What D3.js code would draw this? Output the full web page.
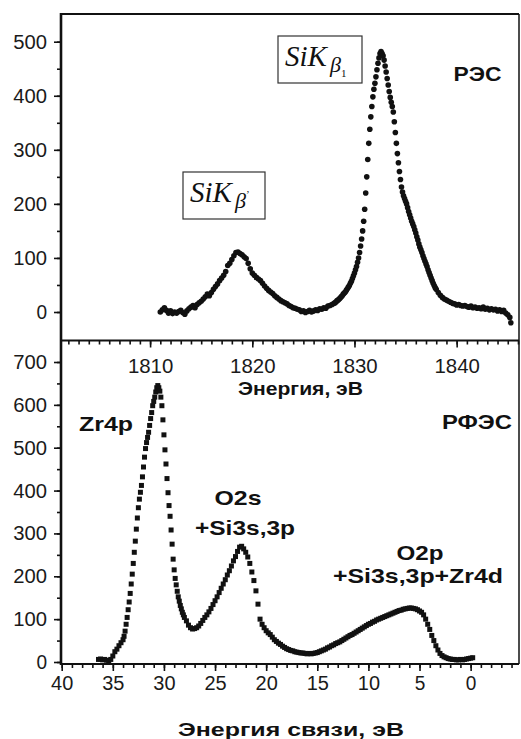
<!DOCTYPE html>
<html>
<head>
<meta charset="utf-8">
<script src="https://cdnjs.cloudflare.com/ajax/libs/d3/7.8.5/d3.min.js"></script>
<style>
  html, body { margin: 0; padding: 0; background: #fff; }
  svg { display: block; }
</style>
</head>
<body>
<svg id="chart"></svg>
<script>

/*
*   Data
*/

// РЭС: [энергия, эВ; интенсивность]
const resPoints = [
    [1811.0, 0], [1811.2, 4], [1811.4, 8], [1811.6, 3], [1811.8, -2], [1812.0, 2], [1812.2, -3], [1812.4, 0],
    [1812.6, -2], [1812.8, 1], [1813.0, 3], [1813.2, -1], [1813.4, -4], [1813.6, 2], [1813.8, 6], [1814.0, 9],
    [1814.2, 12], [1814.4, 8], [1814.6, 14], [1814.8, 17], [1815.0, 20], [1815.2, 24], [1815.4, 28], [1815.6, 33],
    [1815.8, 30], [1816.0, 36], [1816.2, 42], [1816.4, 47], [1816.6, 52], [1816.8, 58], [1817.0, 63], [1817.2, 68],
    [1817.4, 75], [1817.6, 86], [1817.8, 90], [1818.0, 97], [1818.2, 104], [1818.4, 110], [1818.6, 111], [1818.8, 108],
    [1819.0, 106], [1819.2, 102], [1819.4, 99], [1819.6, 90], [1819.8, 80], [1820.0, 72], [1820.2, 68], [1820.4, 64],
    [1820.6, 61], [1820.8, 58], [1821.0, 53], [1821.2, 48], [1821.4, 44], [1821.6, 40], [1821.8, 37], [1822.0, 34],
    [1822.2, 30], [1822.4, 27], [1822.6, 24], [1822.8, 21], [1823.0, 19], [1823.2, 17], [1823.4, 15], [1823.6, 12],
    [1823.8, 10], [1824.0, 8], [1824.2, 7], [1824.4, 5], [1824.6, 4], [1824.8, 1], [1825.0, 2], [1825.2, -1],
    [1825.4, 1], [1825.6, 3], [1825.8, 0], [1826.0, 2], [1826.2, 4], [1826.4, 3], [1826.6, 6], [1826.8, 5],
    [1827.0, 8], [1827.2, 7], [1827.4, 11], [1827.6, 12], [1827.8, 14],
    [1828.0, 16], [1828.1, 17], [1828.2, 19], [1828.3, 21], [1828.4, 22], [1828.5, 24], [1828.6, 26], [1828.7, 28],
    [1828.8, 30], [1828.9, 33], [1829.0, 35], [1829.1, 37], [1829.2, 40], [1829.3, 43], [1829.4, 46], [1829.5, 49],
    [1829.6, 53], [1829.7, 57], [1829.8, 62], [1829.9, 67], [1830.0, 72], [1830.1, 78], [1830.2, 84], [1830.3, 92],
    [1830.4, 100], [1830.5, 110], [1830.6, 122], [1830.7, 135], [1830.8, 150], [1830.9, 168], [1831.0, 190], [1831.1, 220],
    [1831.2, 250], [1831.3, 282], [1831.4, 312], [1831.5, 338], [1831.6, 361], [1831.7, 380], [1831.8, 398], [1831.9, 412],
    [1832.0, 423], [1832.1, 435], [1832.2, 448], [1832.3, 460], [1832.4, 470], [1832.5, 478], [1832.6, 482], [1832.7, 478],
    [1832.8, 474], [1832.9, 466], [1833.0, 455], [1833.1, 444], [1833.2, 432], [1833.3, 420], [1833.4, 408], [1833.5, 397],
    [1833.6, 388], [1833.7, 380], [1833.8, 370], [1833.9, 352], [1834.0, 332], [1834.1, 312], [1834.2, 293], [1834.3, 276],
    [1834.4, 260], [1834.5, 245], [1834.6, 231], [1834.7, 222], [1834.8, 215], [1834.9, 210], [1835.0, 205], [1835.1, 200],
    [1835.2, 193], [1835.3, 186], [1835.4, 180], [1835.5, 174], [1835.6, 168], [1835.7, 163], [1835.8, 158], [1835.9, 152],
    [1836.0, 146], [1836.1, 139], [1836.2, 133], [1836.3, 126], [1836.4, 120], [1836.5, 115], [1836.6, 110], [1836.7, 104],
    [1836.8, 99], [1836.9, 94], [1837.0, 89], [1837.1, 84], [1837.2, 78], [1837.3, 73], [1837.4, 68], [1837.5, 63],
    [1837.6, 58], [1837.7, 53], [1837.8, 49], [1837.9, 45],
    [1838.0, 42], [1838.2, 36], [1838.4, 31], [1838.6, 27], [1838.8, 24], [1839.0, 22], [1839.2, 20], [1839.4, 18],
    [1839.6, 16], [1839.8, 15], [1840.0, 13], [1840.2, 14], [1840.4, 12], [1840.6, 11], [1840.8, 12], [1841.0, 10],
    [1841.2, 9], [1841.4, 11], [1841.6, 8], [1841.8, 9], [1842.0, 7], [1842.2, 8], [1842.4, 6], [1842.6, 9],
    [1842.8, 5], [1843.0, 7], [1843.2, 4], [1843.4, 6], [1843.6, 4], [1843.8, 5], [1844.0, 2], [1844.2, 4],
    [1844.4, 1], [1844.6, 3], [1844.8, -2], [1845.0, -5], [1845.2, -10], [1845.3, -20],
]

// РФЭС: [энергия связи, эВ; интенсивность]
const xpsPoints = [
    [36.4, 6], [36.2, 7], [36.0, 5], [35.8, 6], [35.6, 4], [35.4, 3], [35.2, 6], [35.0, 14],
    [34.8, 24], [34.6, 30], [34.4, 38], [34.2, 45], [34.0, 52],
    [33.9, 60], [33.8, 72], [33.7, 88], [33.6, 104], [33.5, 122], [33.4, 140], [33.3, 160], [33.2, 182],
    [33.1, 205], [33.0, 230], [32.9, 256], [32.8, 282], [32.7, 310], [32.6, 336], [32.5, 360], [32.4, 380],
    [32.3, 396], [32.2, 412], [32.1, 432], [32.0, 455], [31.9, 478], [31.8, 498], [31.7, 512], [31.6, 524],
    [31.5, 536], [31.4, 552], [31.3, 568], [31.2, 582], [31.1, 598], [31.0, 608], [30.9, 618], [30.8, 630],
    [30.7, 640], [30.6, 645], [30.5, 640], [30.4, 632], [30.3, 618], [30.2, 598], [30.1, 565], [30.0, 530],
    [29.9, 495], [29.8, 462], [29.7, 428], [29.6, 395], [29.5, 365], [29.4, 340], [29.3, 308], [29.2, 275],
    [29.1, 240], [29.0, 215], [28.9, 195], [28.8, 180], [28.7, 165], [28.6, 152], [28.5, 142], [28.4, 132],
    [28.3, 124], [28.2, 116], [28.1, 110], [28.0, 104],
    [27.8, 96], [27.6, 86], [27.4, 80], [27.2, 77], [27.0, 78], [26.8, 80], [26.6, 84], [26.4, 90],
    [26.2, 97], [26.0, 104], [25.8, 110], [25.6, 117], [25.4, 125], [25.2, 134], [25.0, 143], [24.8, 152],
    [24.6, 162], [24.4, 172], [24.2, 182], [24.0, 192], [23.8, 203], [23.6, 213], [23.4, 224], [23.2, 236],
    [23.0, 246], [22.8, 258], [22.6, 268], [22.4, 270], [22.2, 264], [22.0, 256], [21.8, 245], [21.6, 230],
    [21.4, 210], [21.2, 190], [21.0, 166], [20.8, 135], [20.6, 100], [20.4, 88], [20.2, 80], [20.0, 73],
    [19.8, 68], [19.6, 64], [19.4, 58], [19.2, 52], [19.0, 48], [18.8, 44], [18.6, 41], [18.4, 37],
    [18.2, 34], [18.0, 31], [17.8, 29], [17.6, 27], [17.4, 26], [17.2, 24], [17.0, 23], [16.8, 22],
    [16.6, 21], [16.4, 21], [16.2, 20], [16.0, 19], [15.8, 20], [15.6, 19], [15.4, 20], [15.2, 21],
    [15.0, 22], [14.8, 24], [14.6, 26], [14.4, 28], [14.2, 30], [14.0, 33], [13.8, 35], [13.6, 38],
    [13.4, 40], [13.2, 43], [13.0, 45], [12.8, 47], [12.6, 50], [12.4, 53], [12.2, 56], [12.0, 59],
    [11.8, 62], [11.6, 64], [11.4, 67], [11.2, 70], [11.0, 73], [10.8, 76], [10.6, 79], [10.4, 82],
    [10.2, 85], [10.0, 88], [9.8, 90], [9.6, 93], [9.4, 95], [9.2, 98], [9.0, 100], [8.8, 102],
    [8.6, 104], [8.4, 106], [8.2, 108], [8.0, 110], [7.8, 112], [7.6, 114], [7.4, 116], [7.2, 118],
    [7.0, 120], [6.8, 121], [6.6, 123], [6.4, 124], [6.2, 125], [6.0, 126], [5.8, 126], [5.6, 125],
    [5.4, 124], [5.2, 122], [5.0, 119], [4.8, 116], [4.6, 110], [4.4, 100], [4.2, 88], [4.0, 76],
    [3.8, 62], [3.6, 50], [3.4, 38], [3.2, 28], [3.0, 20], [2.8, 15], [2.6, 12], [2.4, 10],
    [2.2, 8], [2.0, 7], [1.8, 6], [1.6, 6], [1.4, 5], [1.2, 5], [1.0, 6], [0.8, 5],
    [0.6, 6], [0.4, 7], [0.2, 8], [0.0, 9], [-0.2, 10],
]

const TOP_Y_TICKS = [0, 100, 200, 300, 400, 500]
const BOTTOM_Y_TICKS = [0, 100, 200, 300, 400, 500, 600, 700]
const ENERGY_TICKS = [1810, 1820, 1830, 1840]
const BINDING_TICKS = [40, 35, 30, 25, 20, 15, 10, 5, 0]

const PEAK_LABELS = [
    { text: 'Zr4p', x: 106, y: 431, w: 54 },
    { text: 'O2s', x: 238, y: 505, w: 47 },
    { text: '+Si3s,3p', x: 245, y: 535, w: 100 },
    { text: 'O2p', x: 420, y: 560, w: 47 },
    { text: '+Si3s,3p+Zr4d', x: 418, y: 583, w: 170 },
]


/*
*   Constants
*/

const WIDTH = 521
const HEIGHT = 739
const LEFT = 61
const RIGHT = 519
const TOP = 14
const MIDDLE = 340.5
const BOTTOM = 664
const INK = '#111'
const SANS = '"Liberation Sans", Arial, sans-serif'
const CHAR_W = 11.6


/*
*   Scales
*/

const xEnergy = d3.scaleLinear().domain([1801.35, 1846.1]).range([61.7, RIGHT])
const xBinding = d3.scaleLinear().domain([40, -4.73]).range([61.7, RIGHT])
const yTop = d3.scaleLinear().domain([0, 500]).range([312, 41.7])
const yBottom = d3.scaleLinear().domain([0, 700]).range([662, 362])


const svg = d3.select('#chart')
    .attr('width', WIDTH)
    .attr('height', HEIGHT)


/*
*   Draws an axis, styles ticks, drops the domain path.
*/

const drawAxis = (axis, transform) => {
    const g = svg.append('g')
        .attr('transform', transform)
        .call(axis)
    g.select('.domain').remove()
    g.selectAll('line').attr('stroke', INK).attr('stroke-width', 1.6)
    g.selectAll('text')
        .attr('fill', '#1a1a1a')
        .attr('textLength', function () { return this.textContent.length * CHAR_W - 1 })
        .attr('lengthAdjust', 'spacingAndGlyphs')
        .style('font-family', SANS)
        .style('font-size', '20.5px')
    return g
}

const minorTicks = (scale, step) => {
    const [a, b] = d3.extent(scale.domain())
    return d3.range(Math.ceil(a / step) * step, b + 1e-9, step)
}


/*
*   Axes
*/

// left: upper panel
drawAxis(d3.axisLeft(yTop).tickValues(minorTicks(yTop, 50).filter(v => yTop(v) > TOP + 1 && yTop(v) < MIDDLE - 1))
    .tickSize(4).tickFormat(''), `translate(${LEFT},0)`)
drawAxis(d3.axisLeft(yTop).tickValues(TOP_Y_TICKS).tickSize(7).tickPadding(7), `translate(${LEFT},0)`)

// left: lower panel
drawAxis(d3.axisLeft(yBottom).tickValues(minorTicks(yBottom, 50).filter(v => yBottom(v) > MIDDLE + 1 && yBottom(v) < BOTTOM - 1))
    .tickSize(4).tickFormat(''), `translate(${LEFT},0)`)
drawAxis(d3.axisLeft(yBottom).tickValues(BOTTOM_Y_TICKS).tickSize(7).tickPadding(7), `translate(${LEFT},0)`)

// bottom: binding energy
drawAxis(d3.axisBottom(xBinding).tickValues(minorTicks(xBinding, 1)).tickSize(4).tickFormat(''),
    `translate(0,${BOTTOM})`)
drawAxis(d3.axisBottom(xBinding).tickValues(BINDING_TICKS).tickSize(7).tickPadding(4).tickFormat(d3.format('d')),
    `translate(0,${BOTTOM})`)

// middle: photon energy, ticks pointing into the lower panel
drawAxis(d3.axisBottom(xEnergy).tickValues(minorTicks(xEnergy, 1)).tickSize(4).tickFormat(''),
    `translate(0,${MIDDLE})`)
drawAxis(d3.axisBottom(xEnergy).tickValues(ENERGY_TICKS).tickSize(7).tickPadding(11).tickFormat(d3.format('d')),
    `translate(0,${MIDDLE})`)


/*
*   Frame
*/

const frame = svg.append('g').attr('stroke', INK).attr('fill', 'none')
frame.append('line').attr('x1', LEFT).attr('x2', RIGHT).attr('y1', TOP).attr('y2', TOP).attr('stroke-width', 2)
frame.append('line').attr('x1', RIGHT).attr('x2', RIGHT).attr('y1', TOP).attr('y2', BOTTOM).attr('stroke-width', 1.5)
frame.append('line').attr('x1', LEFT).attr('x2', RIGHT).attr('y1', MIDDLE).attr('y2', MIDDLE).attr('stroke-width', 2)
frame.append('line').attr('x1', LEFT).attr('x2', RIGHT).attr('y1', BOTTOM).attr('y2', BOTTOM).attr('stroke-width', 2)
frame.append('line').attr('x1', LEFT).attr('x2', LEFT).attr('y1', TOP - 1).attr('y2', BOTTOM + 1).attr('stroke-width', 2.6)


/*
*   Marks
*/

svg.append('g')
    .selectAll('circle')
    .data(resPoints)
    .join('circle')
    .attr('cx', d => xEnergy(d[0]))
    .attr('cy', d => yTop(d[1]))
    .attr('r', 2.8)
    .attr('fill', INK)

const SQ = 5
svg.append('g')
    .selectAll('rect')
    .data(xpsPoints)
    .join('rect')
    .attr('x', d => xBinding(d[0]) - SQ / 2)
    .attr('y', d => yBottom(d[1]) - SQ / 2)
    .attr('width', SQ)
    .attr('height', SQ)
    .attr('fill', INK)


/*
*   Labels
*/

const boldLabel = (text, x, y, w, size) => svg.append('text')
    .attr('x', x)
    .attr('y', y)
    .attr('text-anchor', 'middle')
    .attr('textLength', w)
    .attr('lengthAdjust', 'spacingAndGlyphs')
    .attr('fill', INK)
    .style('font-family', SANS)
    .style('font-weight', 'bold')
    .style('font-size', size + 'px')
    .text(text)

boldLabel('РЭС', 477.5, 81, 48, 20)
boldLabel('РФЭС', 477, 429, 70, 21)
PEAK_LABELS.forEach(d => boldLabel(d.text, d.x, d.y, d.w, 21))
boldLabel('Энергия, эВ', 300.5, 395, 125, 17.5)
boldLabel('Энергия связи, эВ', 291, 736, 226, 17.5)

// boxed SiK labels
const siLabel = (bx, by, bw, bh, sub, subDy) => {
    svg.append('rect')
        .attr('x', bx).attr('y', by).attr('width', bw).attr('height', bh)
        .attr('fill', '#fff').attr('stroke', '#333').attr('stroke-width', 1.2)
    const t = svg.append('text')
        .attr('x', bx + 7)
        .attr('y', by + 30)
        .attr('fill', INK)
        .style('font-family', '"Liberation Serif", "Times New Roman", serif')
        .style('font-style', 'italic')
        .style('font-size', '29px')
    t.append('tspan').text('SiK')
    t.append('tspan').attr('dx', 3).attr('dy', 6).style('font-size', '22px').text('β')
    t.append('tspan').attr('dy', subDy).style('font-size', '11px').style('font-style', 'normal').text(sub)
}

siLabel(183, 172, 82, 47, '\u2019', -10)
siLabel(278, 36, 84, 47, '1', 5)

</script>
</body>
</html>
